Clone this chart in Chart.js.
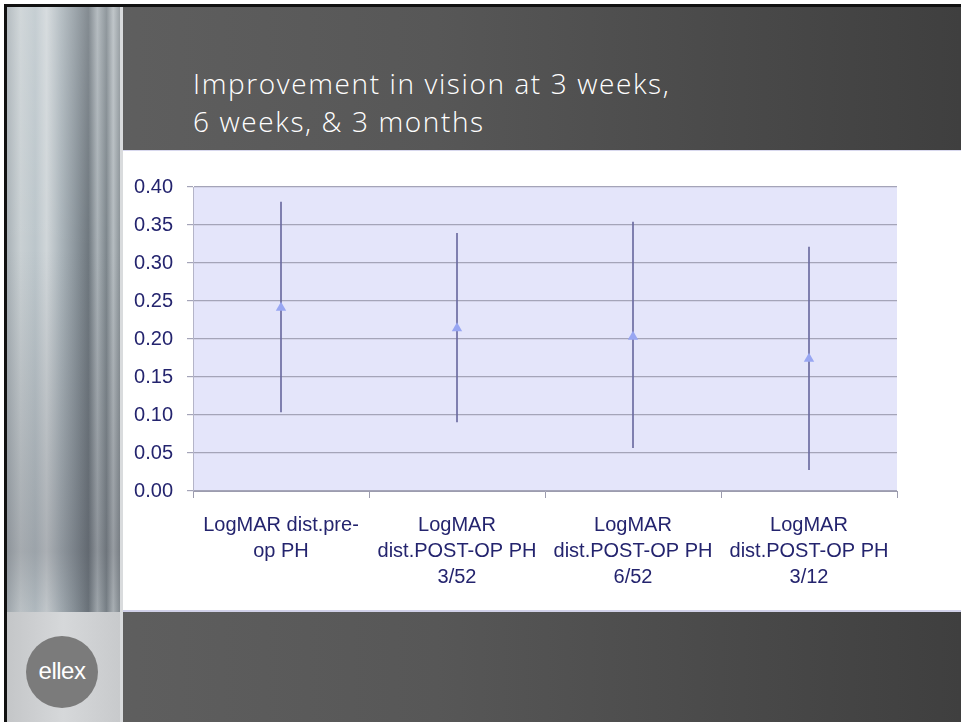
<!DOCTYPE html>
<html>
<head>
<meta charset="utf-8">
<script src="https://cdn.jsdelivr.net/npm/chart.js@4"></script>
<style>
body { margin: 0; width: 961px; height: 722px; background: #fff; overflow: hidden; position: relative; font-family: "Liberation Sans", Arial, sans-serif; }
#slide { position: absolute; left: 4px; top: 4px; width: 957px; height: 718px; border-left: 3px solid #111; border-top: 3px solid #111; box-sizing: border-box; background: linear-gradient(to right, #616161 0%, #575757 45%, #3f3f3f 100%); }
#foto { position: absolute; left: 7px; top: 7px; width: 113px; height: 605px;
  background:
    linear-gradient(to bottom, rgba(255,255,255,0.15) 0%, rgba(255,255,255,0) 40%, rgba(60,60,70,0.25) 90%, rgba(60,60,70,0.1) 100%),
    linear-gradient(to right, #a9b2b7 0%, #c9d0d3 12%, #bcc6cb 25%, #d0d6d9 35%, #aab4ba 48%, #8d979e 60%, #6f787f 72%, #a9b1b6 80%, #7e878d 88%, #b5bcc0 94%, #8b9398 100%); }
#rodape { position: absolute; left: 7px; top: 612px; width: 113px; height: 110px; background: linear-gradient(to right, #c4c6c8, #d6d8da 50%, #c8cacc); }
#logo { position: absolute; left: 26px; top: 636px; width: 72px; height: 72px; border-radius: 50%; background: #7b7b7b; color: #fff; font-size: 24px; line-height: 70px; text-align: center; letter-spacing: -0.5px; }
#divisa { position: absolute; left: 120px; top: 7px; width: 3px; height: 715px; background: #d9dbdd; }
#titulo { position: absolute; left: 193px; top: 64px; color: #fff; font-family: "Open Sans", "Liberation Sans", sans-serif; font-weight: 300; font-size: 28px; line-height: 38px; letter-spacing: 1.6px; }
#painel { position: absolute; left: 123px; top: 150px; width: 838px; height: 462px; background: #fff; border-top: 1px solid #d8d8ee; border-bottom: 2px solid #d0d0e8; box-sizing: border-box; }
#grafico { position: absolute; left: 123px; top: 150px; }
</style>
</head>
<body>
<div id="slide"></div>
<div id="foto"></div>
<div id="rodape"></div>
<div id="logo">ellex</div>
<div id="divisa"></div>
<div id="titulo">Improvement in vision at 3 weeks,<br>6 weeks, &amp; 3 months</div>
<div id="painel"></div>
<div id="grafico"><canvas id="canvas_grafico" width="838" height="462"></canvas></div>

<script>
// categorias e valores
const categorias = [
    ['LogMAR dist.pre-', 'op PH'],
    ['LogMAR', 'dist.POST-OP PH', '3/52'],
    ['LogMAR', 'dist.POST-OP PH', '6/52'],
    ['LogMAR', 'dist.POST-OP PH', '3/12']
];
const medias = [0.241, 0.214, 0.203, 0.174];
const minimos = [0.104, 0.091, 0.057, 0.028];
const maximos = [0.380, 0.339, 0.354, 0.321];
const ticks_y = [0, 0.05, 0.10, 0.15, 0.20, 0.25, 0.30, 0.35, 0.40];

const intervalos = [];
for (var i = 0; i < minimos.length; i++) {
    intervalos.push([minimos[i], maximos[i]]);
}

// fundo lilas da area do grafico
const fundo_plot = {
    id: 'fundo_plot',
    beforeDraw: function (chart) {
        const a = chart.chartArea;
        chart.ctx.save();
        chart.ctx.fillStyle = '#e4e5fa';
        chart.ctx.fillRect(a.left, a.top, a.right - a.left, a.bottom - a.top);
        chart.ctx.restore();
    }
};

const fonte = { family: '"Liberation Sans", Arial, sans-serif', size: 20, lineHeight: 1.3 };

const config = {
    data: {
        labels: categorias,
        datasets: [{
            type: 'line',
            label: 'media',
            data: medias,
            showLine: false,
            pointStyle: 'triangle',
            pointRadius: 6,
            pointBackgroundColor: '#98a6f2',
            pointBorderColor: '#98a6f2',
            pointBorderWidth: 0,
            order: 0
        }, {
            type: 'bar',
            label: 'intervalo',
            data: intervalos,
            backgroundColor: '#6a6aa0',
            borderWidth: 0,
            barThickness: 1,
            order: 1
        }]
    },
    options: {
        responsive: false,
        animation: false,
        layout: { padding: { top: 37, right: 64, left: 0, bottom: 0 } },
        plugins: { legend: { display: false }, tooltip: { enabled: false } },
        scales: {
            x: {
                offset: true,
                grid: { display: true, offset: true, drawOnChartArea: false, drawTicks: true, tickLength: 7, color: '#9c9cae' },
                border: { display: true, color: '#9c9cae' },
                ticks: { color: '#24246e', font: fonte, padding: 14, maxRotation: 0, autoSkip: false },
                afterFit: function (scale) { scale.height = 121; }
            },
            y: {
                min: 0,
                max: 0.4,
                afterBuildTicks: function (scale) {
                    scale.ticks = ticks_y.map(function (v) { return { value: v }; });
                },
                grid: { color: '#a4a4b8', tickLength: 6, lineWidth: 1.2 },
                border: { display: true, color: '#b4b4c8' },
                ticks: {
                    color: '#24246e',
                    font: { family: '"Liberation Sans", Arial, sans-serif', size: 20 },
                    padding: 14,
                    callback: function (v) { return v.toFixed(2); }
                },
                afterFit: function (scale) { scale.width = 70; }
            }
        }
    },
    plugins: [fundo_plot]
};

const grafico = new Chart(document.getElementById('canvas_grafico'), config);
</script>
</body>
</html>
